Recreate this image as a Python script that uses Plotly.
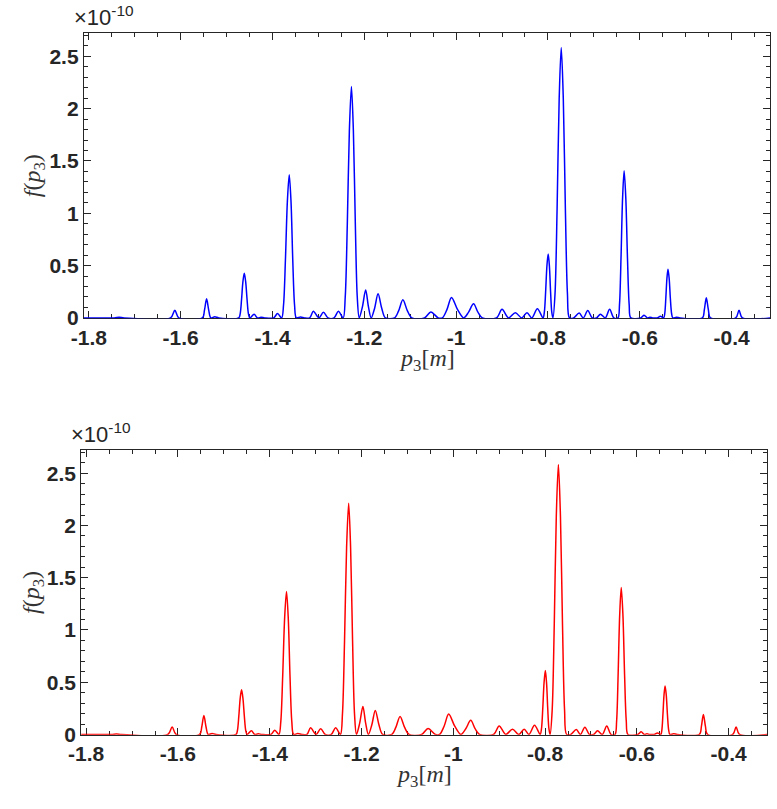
import plotly.graph_objects as go

p3 = [
    -1.811, -1.745, -1.734, -1.723,
    -1.622, -1.6127, -1.604,
    -1.5527, -1.5481, -1.5435, -1.5389, -1.5343,
    -1.5257, -1.517,
    -1.4734, -1.4704, -1.4674, -1.4644, -1.4614, -1.4584, -1.4553, -1.4523, -1.4492,
    -1.4400, -1.4328,
    -1.425, -1.417,
    -1.3975, -1.389, -1.380,
    -1.3759, -1.3718, -1.3676, -1.3635, -1.3596, -1.3558, -1.3519, -1.348,
    -1.339, -1.330,
    -1.319, -1.311, -1.299, -1.289, -1.279,
    -1.266, -1.2565, -1.246,
    -1.2415, -1.237, -1.2325, -1.228, -1.2238, -1.2195, -1.2153, -1.211,
    -1.204, -1.197, -1.191, -1.185,
    -1.1775, -1.170, -1.162, -1.154,
    -1.134, -1.125, -1.116, -1.1063, -1.0965,
    -1.069, -1.055, -1.039,
    -1.030, -1.020, -1.010, -0.9968, -0.9835,
    -0.9728, -0.962, -0.9525, -0.943,
    -0.912, -0.900, -0.8858,
    -0.871, -0.857,
    -0.8456, -0.835,
    -0.823, -0.8106,
    -0.8078, -0.805, -0.8022, -0.7994, -0.7968, -0.7942, -0.7916, -0.789,
    -0.7845, -0.780, -0.7755, -0.771, -0.7665, -0.762, -0.7575, -0.753,
    -0.744, -0.732, -0.723, -0.7132, -0.7035,
    -0.694, -0.6857, -0.675, -0.6656, -0.6564,
    -0.6475, -0.6441, -0.6408, -0.6374, -0.634, -0.6303, -0.6267, -0.6230, -0.6193,
    -0.598, -0.5906, -0.5836, -0.578, -0.572,
    -0.562, -0.555, -0.5478,
    -0.5455, -0.5432, -0.5408, -0.5385, -0.5359, -0.5333, -0.5306, -0.528,
    -0.520, -0.512,
    -0.4636, -0.4593, -0.455, -0.4505, -0.446,
    -0.391, -0.3837, -0.3764,
    -0.316,
]
f_p3 = [
    0, 0, 0.005, 0,
    0, 0.072, 0,
    0, 0.074, 0.182, 0.074, 0,
    0.01, 0,
    0, 0.038, 0.173, 0.346, 0.427, 0.346, 0.173, 0.038, 0,
    0.035, 0,
    0.006, 0,
    0, 0.041, 0,
    0.123, 0.554, 1.109, 1.369, 1.109, 0.554, 0.123, 0,
    0.008, 0,
    0, 0.063, 0, 0.054, 0,
    0, 0.063, 0,
    0.199, 0.896, 1.793, 2.213, 1.793, 0.896, 0.199, 0,
    0.108, 0.267, 0.108, 0,
    0.093, 0.23, 0.093, 0,
    0, 0.070, 0.173, 0.070, 0,
    0, 0.057, 0,
    0, 0.079, 0.195, 0.079, 0,
    0.055, 0.135, 0.055, 0,
    0, 0.082, 0,
    0.05, 0,
    0.05, 0,
    0.088, 0,
    0.055, 0.248, 0.496, 0.612, 0.496, 0.248, 0.055, 0,
    0.233, 1.047, 2.093, 2.584, 2.093, 1.047, 0.233, 0,
    0, 0.047, 0, 0.07, 0,
    0, 0.035, 0, 0.082, 0,
    0, 0.127, 0.570, 1.140, 1.407, 1.140, 0.570, 0.127, 0,
    0, 0.025, 0, 0.006, 0,
    0, 0.015, 0,
    0.042, 0.188, 0.377, 0.465, 0.377, 0.188, 0.042, 0,
    0.006, 0,
    0, 0.078, 0.192, 0.078, 0,
    0, 0.072, 0,
    0,
]
assert len(p3) == len(f_p3)

x_tickvals = [-1.8, -1.6, -1.4, -1.2, -1.0, -0.8, -0.6, -0.4]
x_ticktext = ["-1.8", "-1.6", "-1.4", "-1.2", "-1", "-0.8", "-0.6", "-0.4"]
y_tickvals = [0, 0.5, 1, 1.5, 2, 2.5]
y_ticktext = ["0", "0.5", "1", "1.5", "2", "2.5"]

W, H = 777, 809
AX = "#262626"
TICKFONT = dict(family="Liberation Sans, Arial, sans-serif", size=21, color=AX, weight="bold")

fig = go.Figure()
fig.add_trace(go.Scatter(x=p3, y=f_p3, mode="lines", line=dict(color="#0000ff", width=1.5, shape="spline", smoothing=0.9),
                         xaxis="x", yaxis="y", showlegend=False, hoverinfo="skip"))
fig.add_trace(go.Scatter(x=p3, y=f_p3, mode="lines", line=dict(color="#ff0000", width=1.5, shape="spline", smoothing=0.9),
                         xaxis="x2", yaxis="y2", showlegend=False, hoverinfo="skip"))

def xax(domain, anchor):
    return dict(domain=domain, anchor=anchor, range=[-1.811, -0.316], tickvals=x_tickvals, ticktext=x_ticktext,
                ticks="inside", ticklen=7, tickwidth=1, tickcolor=AX, mirror="ticks", showline=True,
                linecolor=AX, linewidth=1, showgrid=False, zeroline=False, tickfont=TICKFONT,
                layer="below traces",
                minor=dict(ticks="inside", dtick=0.05, tick0=-1.8, ticklen=4, tickwidth=1, tickcolor=AX, showgrid=False))

def yax(domain, anchor):
    return dict(domain=domain, anchor=anchor, range=[-0.004, 2.725], tickvals=y_tickvals, ticktext=y_ticktext,
                ticks="inside", ticklen=7, tickwidth=1, tickcolor=AX, mirror="ticks", showline=True,
                linecolor=AX, linewidth=1, showgrid=False, zeroline=False, tickfont=TICKFONT,
                layer="below traces",
                minor=dict(ticks="inside", dtick=0.1, tick0=0, ticklen=4, tickwidth=1, tickcolor=AX, showgrid=False))

top_x = [72 / W, 770 / W]
top_y = [1 - 322.7 / H, 1 - 33.3 / H]
bot_x = [69.3 / W, 767 / W]
bot_y = [1 - 745 / H, 1 - 456 / H]

fig.update_layout(
    width=W, height=H, margin=dict(l=0, r=0, t=0, b=0),
    paper_bgcolor="white", plot_bgcolor="white",
    xaxis=xax(top_x, "y"), yaxis=yax(top_y, "x"),
    xaxis2=xax(bot_x, "y2"), yaxis2=yax(bot_y, "x2"),
)

MATH = dict(family="Liberation Serif, Times New Roman, serif", size=24, color="#333333")
EXP = dict(family="Liberation Sans, Arial, sans-serif", size=22, color=AX)

annotations = []
for xd, yd in [(top_x, top_y), (bot_x, bot_y)]:
    ytop_px = (1 - yd[1]) * H
    ybot_px = (1 - yd[0]) * H
    xl_px = xd[0] * W
    annotations.append(dict(text="×10<sup>-10</sup>", xref="paper", yref="paper", x=(xl_px - 12) / W,
                            y=1 - (ytop_px - 1) / H, xanchor="left", yanchor="bottom", showarrow=False, font=EXP))
    annotations.append(dict(text="<i>f</i>(<i>p</i><sub>3</sub>)", xref="paper", yref="paper", x=21 / W,
                            y=1 - ((ytop_px + ybot_px) / 2) / H, xanchor="center", yanchor="middle",
                            textangle=-90, showarrow=False, font=MATH))
    annotations.append(dict(text="<i>p</i><sub>3</sub>[<i>m</i>]", xref="paper", yref="paper",
                            x=(xd[0] + xd[1]) / 2, y=1 - (ybot_px + 42) / H, xanchor="center", yanchor="middle",
                            showarrow=False, font=MATH))
fig.update_layout(annotations=annotations)

fig.write_html("out.html")
